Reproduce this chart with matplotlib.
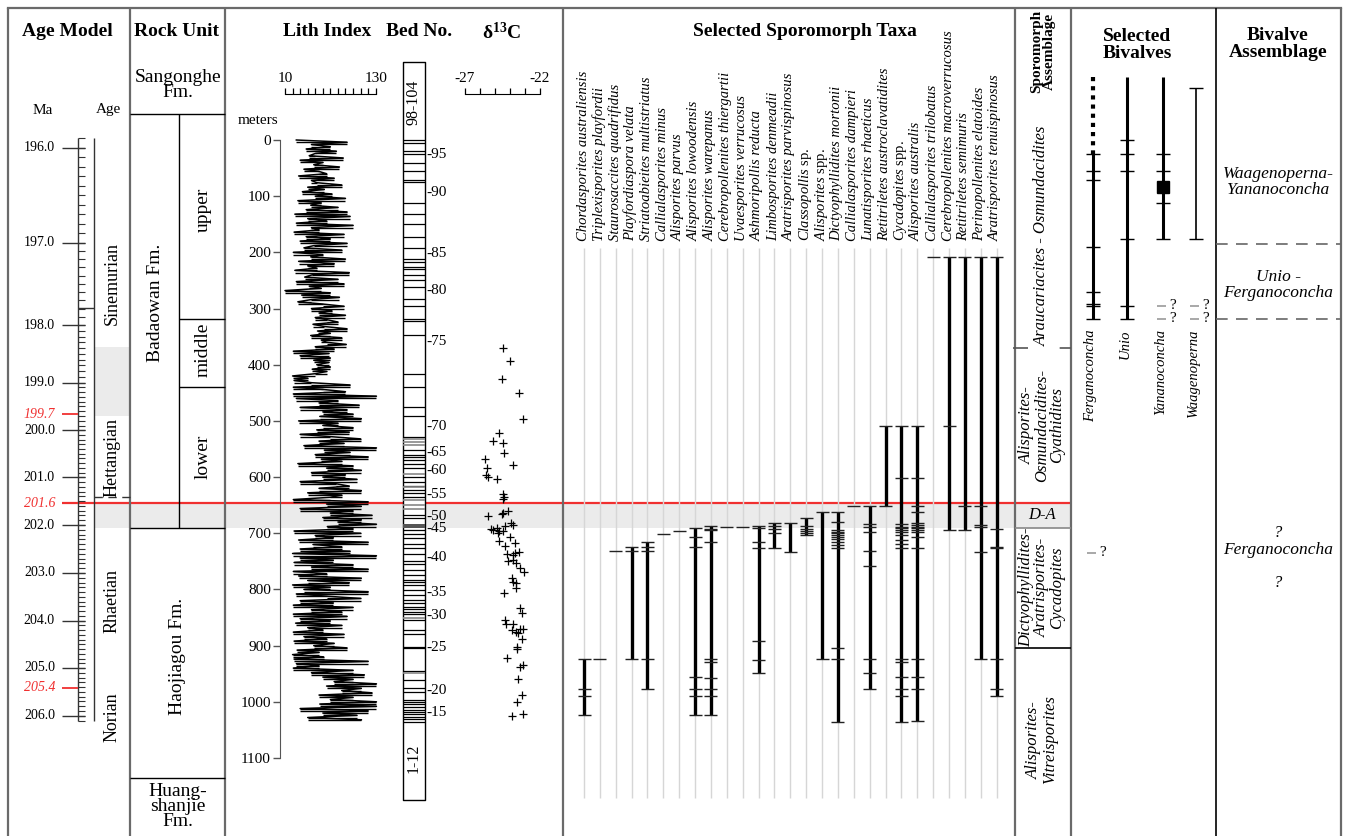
import numpy as np
import matplotlib.pyplot as plt

plt.rcParams['font.family'] = ['Liberation Serif', 'DejaVu Serif']
plt.rcParams['mathtext.fontset'] = 'custom'
plt.rcParams['mathtext.rm'] = 'Liberation Serif'
plt.rcParams['mathtext.it'] = 'Liberation Serif:italic'
plt.rcParams['mathtext.bf'] = 'Liberation Serif:bold'

W, H = 1349, 836
PX0, K = 140, 0.5618          # pixel row of 0 m, pixels per metre
YLIM = ((H - PX0) / K, -PX0 / K)
RED = '#f03030'
FRAME = '#6a6a6a'

# ---------------- data ----------------
# age model (Ma -> section depth, m)
age_ma = [195.9, 196.0, 197.0, 198.0, 199.0, 200.0, 201.0, 202.0, 203.0, 204.0, 205.0, 206.0, 206.1]
age_depth = [-3.6, 14.2, 182.8, 329.3, 432.0, 516.7, 600.4, 685.3, 770.7, 855.6, 939.8, 1024.7, 1033.6]
red_ages = ['199.7', '201.6', '205.4']
red_age_depth = [488, 647, 975]
stages = ['Sinemurian', 'Hettangian', 'Rhaetian', 'Norian']
stage_label_depth = [256, 566, 820, 1027]
stage_tick_depth = 299
stage_dash_depth = 635
stage_band = (368, 491)

# rock units
formations = ['Sangonghe\nFm.', 'Badaowan Fm.', 'Haojiagou Fm.', 'Huang-\nshanjie\nFm.']
formation_base = [-46, 691, 1136]
formation_label_depth = [-98, 290, 920, 1186]
members = ['upper', 'middle', 'lower']
member_base = [319, 440]
member_label_depth = [125, 374, 564]

# lithology index, one value every 4 m from the top of the section
lith_index = [
    25, 92, 45, 70, 38, 78, 50, 42, 87, 30, 60, 48, 82, 35, 55, 65, 28, 75, 45, 52,
    85, 40, 62, 33, 72, 50, 90, 27, 58, 44, 80, 38, 92,
    23, 96, 40, 65, 25, 100, 45, 55, 22, 88, 38, 70, 30, 92, 48, 35, 85, 21, 60, 44,
    90, 28, 75, 40, 52, 23, 95, 46, 36, 80, 25, 88, 42, 58, 10, 70, 32, 82, 45, 27,
    60, 88, 45, 72, 55, 90, 50, 66, 80, 47, 62, 92, 53, 70, 44, 85, 58, 65, 91, 50,
    75, 21, 68, 30, 70,
    48, 68, 52, 70, 46, 65, 50, 20, 40, 22, 45, 96, 21, 60, 90,
    21, 131, 25, 80, 55, 108, 30, 92, 60, 100, 56,
    111, 28, 80, 60, 100, 52, 95, 30, 70, 110, 55, 88, 35, 131, 62, 96, 50, 120, 58, 85,
    27, 100, 65, 111, 45, 90, 60, 105, 30, 78, 95, 55, 111, 40, 85, 70,
    21, 120, 65, 111, 30, 100, 70, 125, 60, 111, 80, 131, 66, 100,
    22, 110, 50, 74, 28, 120, 47, 85, 30, 96,
    20, 131, 30, 74, 22, 100, 45, 120, 21, 65, 28, 111, 40,
    95, 20, 70, 35, 120, 25, 65, 110, 30, 74, 21, 100, 45, 85,
    21, 92, 30, 70, 24, 85, 40, 60, 21, 88, 35, 65, 22, 75, 48, 92, 26, 55,
    20, 61, 22, 120, 25, 55, 21, 100, 45,
    115, 60, 100, 75, 131, 65, 111, 85, 125, 55, 100, 70, 131,
    56, 131, 30, 120, 60, 105, 40, 111,
]
lith_depth = np.arange(len(lith_index)) * 4.0

# bed column
bed_box = (-139, 1175)
bed_lines = [0, 4.7, 19, 25, 41.5, 54.6, 71, 74, 113, 132, 150, 173, 193, 212, 216.6,
             225.5, 230, 241, 249, 262, 283.6, 295, 319, 323, 347, 417, 439, 475, 492,
             528, 551, 561, 565, 570, 577, 584, 599, 608, 616, 623, 629, 635, 668,
             672, 695, 701, 709, 719, 727, 737, 749, 755, 765, 774, 783, 786, 792, 801,
             810, 818, 825, 831, 835, 840, 844, 854, 872, 879, 902, 905, 945, 961,
             976, 982, 997, 1000, 1004, 1009, 1014, 1018, 1022, 1027, 1031, 1035.5]
bed_lines_grey = [533, 537, 543, 595, 618, 640, 650, 657, 851, 948]
bed_dark = (683, 691)
bed_numbers = [95, 90, 85, 80, 75, 70, 65, 60, 55, 50, 45, 40, 35, 30, 25, 20, 15]
bed_number_depth = [25.5, 93.7, 201.7, 268.2, 359, 510, 556, 589, 631, 670, 692.4,
                    743, 806, 847, 904, 979, 1019]

# carbon isotopes
d13c_depth = [370.8, 393.4, 426.0, 450.9, 497.2, 521.0, 536.4, 538.8, 557.8, 567.2,
              583.3, 578.0, 596.5, 600.6, 604.2, 630.3, 636.2, 639.8, 660.5, 666.5,
              663.5, 668.9, 681.3, 685.5, 687.3, 693.2, 694.4, 691.4, 695.6, 700.4,
              695.6, 713.4, 721.8, 707.5, 717.0, 737.2, 739.0, 736.0, 733.1, 749.7,
              747.9, 753.8, 762.7, 769.8, 779.3, 786.5, 788.2, 798.3, 806.0, 833.9,
              841.6, 854.7, 861.8, 861.8, 872.5, 875.4, 871.3, 871.3, 878.4, 889.1,
              902.1, 906.9, 922.9, 934.8, 937.8, 958.6, 988.3, 1000.1, 1020.9, 1025.7]
d13c_value = [-24.44, -24.0, -24.56, -23.4, -23.11, -24.71, -25.11, -24.44, -24.4, -25.67,
              -25.51, -23.78, -25.6, -25.44, -24.84, -24.49, -24.4, -24.49, -24.11, -24.56,
              -24.44, -25.44, -23.96, -23.82, -24.33, -25.27, -25.11, -24.89, -24.73, -24.82,
              -24.49, -24.71, -24.33, -24.0, -23.67, -24.22, -23.82, -23.67, -23.38, -24.11,
              -23.82, -23.6, -23.33, -23.07, -23.89, -23.78, -23.6, -23.6, -24.4, -23.33,
              -23.22, -24.33, -24.27, -23.82, -23.89, -23.6, -23.33, -23.11, -23.44, -23.22,
              -23.56, -23.51, -24.22, -23.16, -23.33, -23.44, -23.22, -23.51, -23.16, -23.89]

# sporomorph taxa and their occurrence depths (m)
taxa = ['Chordasporites australiensis', 'Triplexisporites playfordii',
        'Staurosaccites quadrifidus', 'Playfordiaspora velata',
        'Striatoabieites multistriatus', 'Callialasporites minus', 'Alisporites parvus',
        'Alisporites lowoodensis', 'Alisporites warepanus',
        'Cerebropollenites thiergartii', 'Uvaesporites verrucosus',
        'Ashmoripollis reducta', 'Limbosporites denmeadii',
        'Aratrisporites parvispinosus', r'$\mathit{Classopollis}$ sp.',
        r'$\mathit{Alisporites}$ spp.', 'Dictyophyllidites mortonii',
        'Callialasporites dampieri', 'Lunatisporites rhaeticus',
        'Retitriletes austroclavatidites', r'$\mathit{Cycadopites}$ spp.',
        'Alisporites australis', 'Callialasporites trilobatus',
        'Cerebropollenites macroverrucosus', 'Retitriletes semimuris',
        'Perinopollenites elatoides', 'Aratrisporites tenuispinosus']
taxa_occ = [
    [923, 978, 990, 1023.5],
    [923],
    [731.6],
    [723.7, 731, 923],
    [715, 724, 731, 923, 978],
    [702],
    [695.4],
    [691.3, 706, 723.7, 955.3, 977.8, 989.7, 1023.5],
    [687.2, 692, 695, 715, 923, 929.7, 958.2, 977.8, 989.7, 1023.5],
    [689.3],
    [689],
    [687, 690.5, 715, 726.8, 891.2, 925.6, 948],
    [681, 687, 693, 700, 726.8],
    [681, 732.7],
    [673.3, 687, 692, 695.5, 699, 703],
    [662.6, 923],
    [662.6, 679.4, 694, 697, 700, 703, 706, 711, 715, 721, 727, 904.8, 923, 1036.5],
    [651],
    [651, 683.5, 689.4, 697.2, 731.6, 758.3, 923, 948, 977.8],
    [509.3, 651.5],
    [509.3, 602.2, 683.5, 688, 691.5, 695, 698.6, 703, 712, 719, 727, 923, 929.7,
     956.4, 977.8, 989.7, 1036.5],
    [509.3, 602.2, 651.5, 662.6, 681, 685.3, 688, 691.5, 695, 698.6, 707, 727, 923,
     955.3, 977.8, 1035],
    [207.7],
    [207.7, 509.3, 694.2],
    [207.7, 651.5, 694.2],
    [207.7, 651.5, 685.3, 689.4, 732.7, 923],
    [207.7, 692.8, 725, 726.8, 923, 977.8, 989.7],
]
taxa_guide = (192, 1171)

# sporomorph assemblages
spor_names = ['Araucariacites - Osmundacidites', 'Alisporites-\nOsmundacidites-\nCyathidites',
              'D-A', 'Dictyophyllidites-\nAratrisporites-\nCycadopites',
              'Alisporites-\nVitreisporites']
spor_label_depth = [171, 508, 668, 797, 1068]
spor_bounds = [370, 691, 904]
boundary_depth = 647          # red line
da_band = (647, 691)

# bivalves
bivalves = ['Ferganoconcha', 'Unio', 'Yananoconcha', 'Waagenoperna']
biv_top = [-112, -112, -112, -92.6]
biv_base = [318.6, 318.6, 176, 176]
biv_occ = [[25, 55, 71, 190, 270.6, 292, 295.5, 318.6],
           [0, 25, 55, 176, 295, 318.6],
           [25, 55, 112, 176],
           [-92.6, 176]]
biv_query = [[735], [], [295, 318.6], [295, 318.6]]
yanano_square = 83.7
biv_asm = ['Waagenoperna-\nYananoconcha', 'Unio -\nFerganoconcha', 'Ferganoconcha']
biv_asm_depth = [75, 258, 730]
biv_asm_bounds = [185, 318.6]

# ---------------- drawing ----------------
fig = plt.figure(figsize=(W / 100, H / 100), dpi=100)
ax = fig.add_axes([0, 0, 1, 1])
ax.set_xlim(0, W)
ax.set_ylim(*YLIM)
ax.axis('off')


def row(py):
    return (py - PX0) / K


def txt(x, y, s, **kw):
    fig.text(x / W, 1 - y / H, s, **kw)


# frame and column dividers
top = row(8)
ax.plot([8, 1341], [top, top], color=FRAME, lw=1.6)
ax.vlines([8, 130, 225, 563, 1015, 1071, 1341], top, YLIM[0], color=FRAME, lw=1.6)
ax.vlines(1216, top, YLIM[0], color='black', lw=1.2)

# D-A band and boundary
ax.fill_between([94, 1071], da_band[0], da_band[1], color='#ebebeb', lw=0, zorder=0)
ax.hlines(boundary_depth, 62, 1071, color=RED, lw=1.6, zorder=1)

# headers
hb = dict(fontsize=14, fontweight='bold', ha='center', va='center')
txt(67, 32, 'Age Model', **hb)
txt(177, 32, 'Rock Unit', **hb)
txt(327, 32, 'Lith Index', **hb)
txt(419, 32, 'Bed No.', **hb)
txt(502, 32, r'δ$^{\mathbf{13}}$C', **hb)
txt(805, 32, 'Selected Sporomorph Taxa', **hb)
txt(1137, 45, 'Selected\nBivalves', linespacing=1.05, **hb)
txt(1278, 44, 'Bivalve\nAssemblage', linespacing=1.05, **hb)
txt(1043, 10, 'Sporomorph\nAssemblage', rotation=90, fontsize=11, fontweight='bold',
    ha='center', va='top', linespacing=0.9)

# age model ruler
txt(43, 110, 'Ma', fontsize=11, ha='center', va='center')
txt(108, 110, 'Age', fontsize=11, ha='center', va='center')
ax.vlines([78, 94], age_depth[0], age_depth[-1], color='#333333', lw=1)
minor_ages = np.round(np.arange(195.9, 206.11, 0.1), 1)
ax.hlines(np.interp(minor_ages, age_ma, age_depth), 78, 85, color='#333333', lw=0.8)
major_ages = np.arange(196, 207)
major_d = np.interp(major_ages, age_ma, age_depth)
ax.hlines(major_d, 62, 85, color='#333333', lw=1)
for a, d in zip(major_ages, major_d):
    ax.text(55, d, f'{a:.1f}', ha='right', va='center', fontsize=10)
ax.hlines(red_age_depth, 62, 78, color=RED, lw=1.3)
for s, d in zip(red_ages, red_age_depth):
    ax.text(55, d, s, ha='right', va='center', fontsize=10, color=RED, style='italic')
ax.fill_between([94, 130], stage_band[0], stage_band[1], color='#ebebeb', lw=0, zorder=0)
ax.hlines(stage_tick_depth, 78, 94, color='#333333', lw=1)
ax.hlines(stage_dash_depth, 94, 130, color='#333333', lw=1, linestyles=(0, (6, 4)))
for s, d in zip(stages, stage_label_depth):
    ax.text(112, d, s, rotation=90, ha='center', va='center', fontsize=13)

# rock units
ax.hlines(formation_base, 130, 225, color='black', lw=1)
ax.vlines(179, formation_base[0], formation_base[1], color='black', lw=1)
ax.hlines(member_base, 179, 225, color='black', lw=1)
ax.text(178, formation_label_depth[0], formations[0], ha='center', va='center',
        fontsize=14, linespacing=0.8)
ax.text(155, formation_label_depth[1], formations[1], rotation=90, ha='center',
        va='center', fontsize=14)
ax.text(178, formation_label_depth[2], formations[2], rotation=90, ha='center',
        va='center', fontsize=14)
ax.text(178, formation_label_depth[3], formations[3], ha='center', va='center',
        fontsize=14, linespacing=0.85)
for s, d in zip(members, member_label_depth):
    ax.text(203, d, s, rotation=90, ha='center', va='center', fontsize=14)

# lithology index with depth axis
al = fig.add_axes([280 / W, 0, 95.7 / W, 1])
al.patch.set_visible(False)
al.set_xlim(3.38, 130)
al.set_ylim(*YLIM)
lv = np.asarray(lith_index, dtype=float)
al.plot(lv, lith_depth, color='black', lw=1.1, clip_on=False)
al.hlines(lith_depth[1:], np.minimum(lv[:-1], lv[1:]), np.maximum(lv[:-1], lv[1:]),
          color='black', lw=1.0, clip_on=False)
for sp in ['right', 'bottom']:
    al.spines[sp].set_visible(False)
al.spines['left'].set_bounds(0, 1100)
al.spines['left'].set_color('#555555')
al.spines['top'].set_position(('data', row(94)))
al.spines['top'].set_bounds(10, 130)
al.set_yticks(np.arange(0, 1101, 100))
al.tick_params(axis='y', direction='out', length=5, width=1, color='#555555',
               labelsize=11, pad=1.5)
al.xaxis.set_ticks_position('top')
al.set_xticks([10, 130])
al.set_xticklabels(['10', '130'])
al.set_xticks(np.arange(20, 121, 10), minor=True)
al.tick_params(axis='x', which='both', direction='out', length=4.5, width=0.9,
               labelsize=11, pad=2)
txt(258, 121, 'meters', fontsize=11, ha='center', va='center')

# bed numbers
ax.fill_between([403, 425], bed_box[0], bed_box[1], facecolor='white',
                edgecolor='black', lw=1, zorder=2)
ax.hlines(bed_lines, 403, 425, color='black', lw=0.9, zorder=3)
ax.hlines(bed_lines_grey, 403, 425, color='#888888', lw=1.2, zorder=3)
ax.fill_between([403, 425], bed_dark[0], bed_dark[1], color='#555555', lw=0, zorder=3)
for n, d in zip(bed_numbers, bed_number_depth):
    ax.text(426, d, f'-{n}', ha='left', va='center', fontsize=11)
ax.text(414, row(102), '98-104', rotation=90, ha='center', va='center', fontsize=11.5,
        zorder=4)
ax.text(414, row(758), '1-12', rotation=90, ha='center', va='center', fontsize=11.5,
        zorder=4)

# d13C
ac = fig.add_axes([465 / W, 0, 75 / W, 1])
ac.patch.set_visible(False)
ac.set_xlim(-27, -22)
ac.set_ylim(*YLIM)
ac.plot(d13c_value, d13c_depth, '+', color='black', ms=5.5, mew=0.9)
for sp in ['left', 'right', 'bottom']:
    ac.spines[sp].set_visible(False)
ac.spines['top'].set_position(('data', row(94)))
ac.set_yticks([])
ac.xaxis.set_ticks_position('top')
ac.set_xticks(np.arange(-27, -21, 1))
ac.set_xticklabels(['-27', '', '', '', '', '-22'])
ac.tick_params(axis='x', direction='out', length=4.5, width=0.9, labelsize=11, pad=2)

# sporomorph taxa ranges
xs = 584 + 15.87 * np.arange(len(taxa))
ax.vlines(xs, taxa_guide[0], taxa_guide[1], color='#d6d6d6', lw=1.0, zorder=1)
for x, name, occ in zip(xs, taxa, taxa_occ):
    if len(occ) > 1:
        ax.vlines(x, min(occ), max(occ), color='black', lw=2.4, zorder=3)
    ax.hlines(occ, x - 6.5, x + 6.5, color='#222222', lw=1.0, zorder=4)
    kw = {} if '$' in name else {'style': 'italic'}
    txt(x - 1, 241, name, rotation=90, ha='center', va='bottom', fontsize=10.5, **kw)

# sporomorph assemblages
ax.hlines(spor_bounds[0], 1013, 1071, color='#555555', lw=1.2,
          linestyles=(0, (9, 19, 13, 50)))
ax.hlines(spor_bounds[1], 1015, 1071, color='#888888', lw=1.2)
ax.hlines(spor_bounds[2], 1015, 1071, color='black', lw=1.2)
for s, d in zip(spor_names, spor_label_depth):
    rot = 0 if s == 'D-A' else 90
    ax.text(1042, d, s, rotation=rot, ha='center', va='center', fontsize=12,
            style='italic', linespacing=0.95)

# selected bivalves
bx = [1093, 1127, 1163, 1196]
for i, (x, name) in enumerate(zip(bx, bivalves)):
    occ = biv_occ[i]
    if i == 0:
        ax.vlines(x, biv_top[i], occ[0], color='black', lw=3, linestyles=(0, (1, 1.2)))
        ax.vlines(x, occ[0], biv_base[i], color='black', lw=2.2)
    elif i == 3:
        ax.vlines(x, biv_top[i], biv_base[i], color='black', lw=1.2)
    else:
        ax.vlines(x, biv_top[i], biv_base[i], color='black', lw=2.2)
    ax.hlines(occ, x - 7, x + 7, color='black', lw=1.0)
    for q in biv_query[i]:
        ax.hlines(q, x - 6, x + 3, color='#999999', lw=1.2)
        ax.text(x + 6, q, '?', ha='left', va='center', fontsize=11)
    txt(x - 2, 329, name, rotation=90, ha='center', va='top', fontsize=10.5,
        style='italic')
ax.plot(bx[2], yanano_square, 's', color='black', ms=8.5)

# bivalve assemblages
ax.hlines(biv_asm_bounds, 1216, 1341, color='#666666', lw=1.2, linestyles=(0, (7, 5)))
for s, d in zip(biv_asm, biv_asm_depth):
    ax.text(1278, d, s, ha='center', va='center', fontsize=12.5, style='italic',
            linespacing=1.05)
ax.text(1278, row(533), '?', ha='center', va='center', fontsize=12, style='italic')
ax.text(1278, row(583), '?', ha='center', va='center', fontsize=12, style='italic')

fig.savefig('out.png', dpi=100)
